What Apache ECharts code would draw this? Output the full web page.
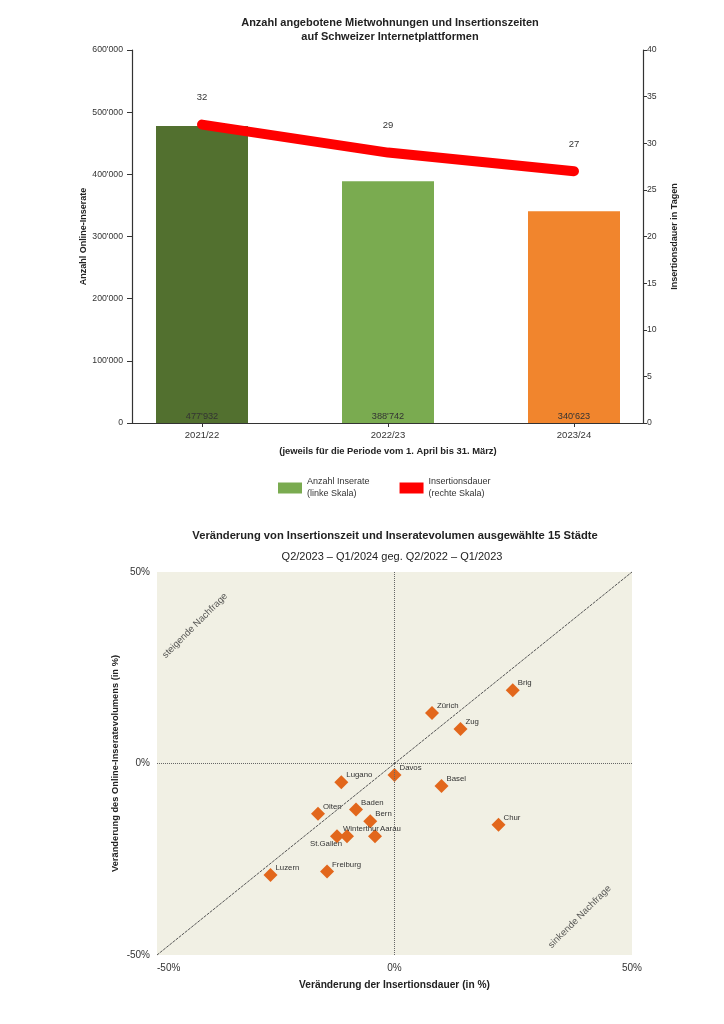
<!DOCTYPE html>
<html>
<head>
<meta charset="utf-8">
<script src="https://cdn.jsdelivr.net/npm/echarts@6/dist/echarts.min.js"></script>
<style>
html,body{margin:0;padding:0;background:#fff;}
#chart{width:724px;height:1024px;}
</style>
</head>
<body>
<div id="chart"></div>
<script>
// ---------- data ----------
const periods = ['2021/22', '2022/23', '2023/24'];
const listings = [477932, 388742, 340623];
const durationDays = [32, 29, 27];
const seriesNames = ['Anzahl Inserate\n(linke Skala)', 'Insertionsdauer\n(rechte Skala)'];

const cities = ['Brig', 'Zürich', 'Zug', 'Davos', 'Basel', 'Chur', 'Lugano', 'Olten', 'Baden', 'Bern', 'Aarau', 'Winterthur', 'St.Gallen', 'Freiburg', 'Luzern'];
const durationChange = [24.9, 7.9, 13.9, 0.0, 9.9, 21.9, -11.2, -16.1, -8.1, -5.1, -4.1, -10.0, -12.1, -14.2, -26.1];
const volumeChange = [19.1, 13.2, 9.0, -3.0, -5.9, -16.0, -4.9, -13.1, -12.0, -15.1, -19.0, -19.0, -19.0, -28.2, -29.1];
const demandNotes = ['steigende Nachfrage', 'sinkende Nachfrage'];
const demandNoteX = [-42, 39];
const demandNoteY = [36, -40];

// ---------- styles ----------
const barColors = ['#52702f', '#7aab50', '#f1852d'];
const FR = "'Liberation Sans', Arial, sans-serif";
const TXT = '#333';

function fmtThousands(v) {
  return String(v).replace(/\B(?=(\d{3})+(?!\d))/g, "'");
}

const chart = echarts.init(document.getElementById('chart'), null, {renderer: 'canvas'});

const cityData = cities.map((c, i) => {
  const d = {name: c, value: [durationChange[i], volumeChange[i]]};
  if (c === 'Winterthur') d.label = {position: [3, 0]};
  if (c === 'St.Gallen') d.label = {position: [12, 15], align: 'right'};
  return d;
});

const option = {
  backgroundColor: '#fff',
  animation: false,
  textStyle: {fontFamily: FR},
  title: [
    {
      text: 'Anzahl angebotene Mietwohnungen und Insertionszeiten\nauf Schweizer Internetplattformen',
      left: 390, top: 16, textAlign: 'center', padding: 0,
      textStyle: {fontFamily: FR, fontSize: 11, fontWeight: 'bold', color: '#222', lineHeight: 14}
    },
    {
      text: 'Veränderung von Insertionszeit und Inseratevolumen ausgewählte 15 Städte',
      left: 395, top: 530, textAlign: 'center', padding: 0,
      textStyle: {fontFamily: FR, fontSize: 11.2, fontWeight: 'bold', color: '#222'}
    },
    {
      text: 'Q2/2023 – Q1/2024 geg. Q2/2022 – Q1/2023',
      left: 392, top: 551, textAlign: 'center', padding: 0,
      textStyle: {fontFamily: FR, fontSize: 11, fontWeight: 'normal', color: '#222'}
    }
  ],
  legend: {
    left: 278, top: 476, padding: 0,
    icon: 'rect', itemWidth: 24, itemHeight: 11, itemGap: 30,
    data: seriesNames,
    textStyle: {fontFamily: FR, fontSize: 9, color: TXT, lineHeight: 12},
    selectedMode: false
  },
  grid: [
    {left: 109, right: 57, top: 50, height: 373},
    {left: 132, right: 81, top: 50, height: 373},
    {left: 157, right: 92, top: 572, height: 383, show: true, backgroundColor: '#f1f0e4', borderWidth: 0}
  ],
  xAxis: [
    {
      gridIndex: 0, type: 'category', data: periods,
      axisLine: {show: false},
      axisTick: {show: true, alignWithLabel: true, length: 4, lineStyle: {color: TXT}},
      axisLabel: {fontFamily: FR, fontSize: 9.5, color: TXT, margin: 7},
      name: '(jeweils für die Periode vom 1. April bis 31. März)',
      nameLocation: 'middle', nameGap: 24, nameMoveOverlap: false,
      nameTextStyle: {fontFamily: FR, fontSize: 9.4, fontWeight: 'bold', color: '#222'}
    },
    {
      gridIndex: 1, type: 'value', min: 0, max: 1,
      axisLine: {show: true, lineStyle: {color: TXT, width: 1.2}},
      axisTick: {show: false}, axisLabel: {show: false}, splitLine: {show: false}
    },
    {
      gridIndex: 2, type: 'value', min: -50, max: 50, interval: 50,
      axisLine: {show: false}, axisTick: {show: false}, splitLine: {show: false},
      axisLabel: {formatter: '{value}%', fontFamily: FR, fontSize: 10, color: TXT, margin: 8, alignMinLabel: 'left'},
      name: 'Veränderung der Insertionsdauer (in %)',
      nameLocation: 'middle', nameGap: 25, nameMoveOverlap: false,
      nameTextStyle: {fontFamily: FR, fontSize: 10.2, fontWeight: 'bold', color: '#222'}
    }
  ],
  yAxis: [
    {
      gridIndex: 0, type: 'value', min: 0, max: 600000, interval: 100000, offset: -23,
      axisLine: {show: true, lineStyle: {color: TXT, width: 1.2}},
      axisTick: {show: true, length: 5, lineStyle: {color: TXT}},
      splitLine: {show: false},
      axisLabel: {formatter: fmtThousands, fontFamily: FR, fontSize: 8.7, color: TXT, margin: 9},
      name: 'Anzahl Online-Inserate', nameLocation: 'middle', nameGap: 44, nameRotate: 90, nameMoveOverlap: false,
      nameTextStyle: {fontFamily: FR, fontSize: 9, fontWeight: 'bold', color: '#222'}
    },
    {
      gridIndex: 0, type: 'value', position: 'right', min: 0, max: 40, interval: 5, offset: -24,
      axisLine: {show: true, lineStyle: {color: TXT, width: 1.2}},
      axisTick: {show: true, length: 4, lineStyle: {color: TXT}},
      splitLine: {show: false},
      axisLabel: {fontFamily: FR, fontSize: 8.7, color: TXT, margin: 4},
      name: 'Insertionsdauer in Tagen', nameLocation: 'middle', nameGap: 27, nameRotate: 90, nameMoveOverlap: false,
      nameTextStyle: {fontFamily: FR, fontSize: 9, fontWeight: 'bold', color: '#222'}
    },
    {gridIndex: 1, type: 'value', show: false, min: 0, max: 1},
    {
      gridIndex: 2, type: 'value', min: -50, max: 50, interval: 50,
      axisLine: {show: false}, axisTick: {show: false}, splitLine: {show: false},
      axisLabel: {formatter: '{value}%', fontFamily: FR, fontSize: 10, color: TXT, margin: 7},
      name: 'Veränderung des Online-Inseratevolumens (in %)',
      nameLocation: 'middle', nameGap: 37, nameRotate: 90, nameMoveOverlap: false,
      nameTextStyle: {fontFamily: FR, fontSize: 9.3, fontWeight: 'bold', color: '#222'}
    }
  ],
  series: [
    {
      name: seriesNames[0], type: 'bar', xAxisIndex: 0, yAxisIndex: 0,
      barWidth: 92,
      itemStyle: {color: barColors[1]},
      data: listings.map((v, i) => ({value: v, itemStyle: {color: barColors[i]}})),
      label: {show: true, position: 'insideBottom', distance: 2, formatter: p => fmtThousands(p.value),
              fontFamily: FR, fontSize: 9.2, color: TXT}
    },
    {
      name: seriesNames[1], type: 'line', xAxisIndex: 0, yAxisIndex: 1,
      data: durationDays,
      symbol: 'circle', symbolSize: 2, showSymbol: true,
      itemStyle: {color: '#ff0000'},
      lineStyle: {color: '#ff0000', width: 10, cap: 'round', join: 'round'},
      label: {show: true, position: 'top', distance: 21, fontFamily: FR, fontSize: 9.5, color: TXT},
      z: 5
    },
    {
      name: 'Städte', type: 'scatter', xAxisIndex: 2, yAxisIndex: 3,
      symbol: 'diamond', symbolSize: 14,
      itemStyle: {color: '#e2671c', opacity: 1},
      data: cityData,
      label: {show: true, formatter: p => p.name, position: [12, 0], align: 'left', verticalAlign: 'middle',
              fontFamily: FR, fontSize: 7.8, color: TXT},
      markLine: {
        silent: true, symbol: 'none', animation: false,
        label: {show: false},
        lineStyle: {color: '#666', type: 'dotted', width: 1},
        data: [
          {xAxis: 0},
          {yAxis: 0},
          [{coord: [-50, -50], lineStyle: {type: [3, 1], color: '#555', width: 1}}, {coord: [50, 50]}]
        ]
      },
      z: 3
    },
    {
      name: 'Nachfrage', type: 'scatter', xAxisIndex: 2, yAxisIndex: 3,
      symbolSize: 0, silent: true,
      data: demandNotes.map((t, i) => ({name: t, value: [demandNoteX[i], demandNoteY[i]]})),
      label: {show: true, formatter: p => p.name, position: 'inside', rotate: 45,
              fontFamily: FR, fontSize: 9.5, color: TXT}
    }
  ]
};

chart.setOption(option);
</script>
</body>
</html>
